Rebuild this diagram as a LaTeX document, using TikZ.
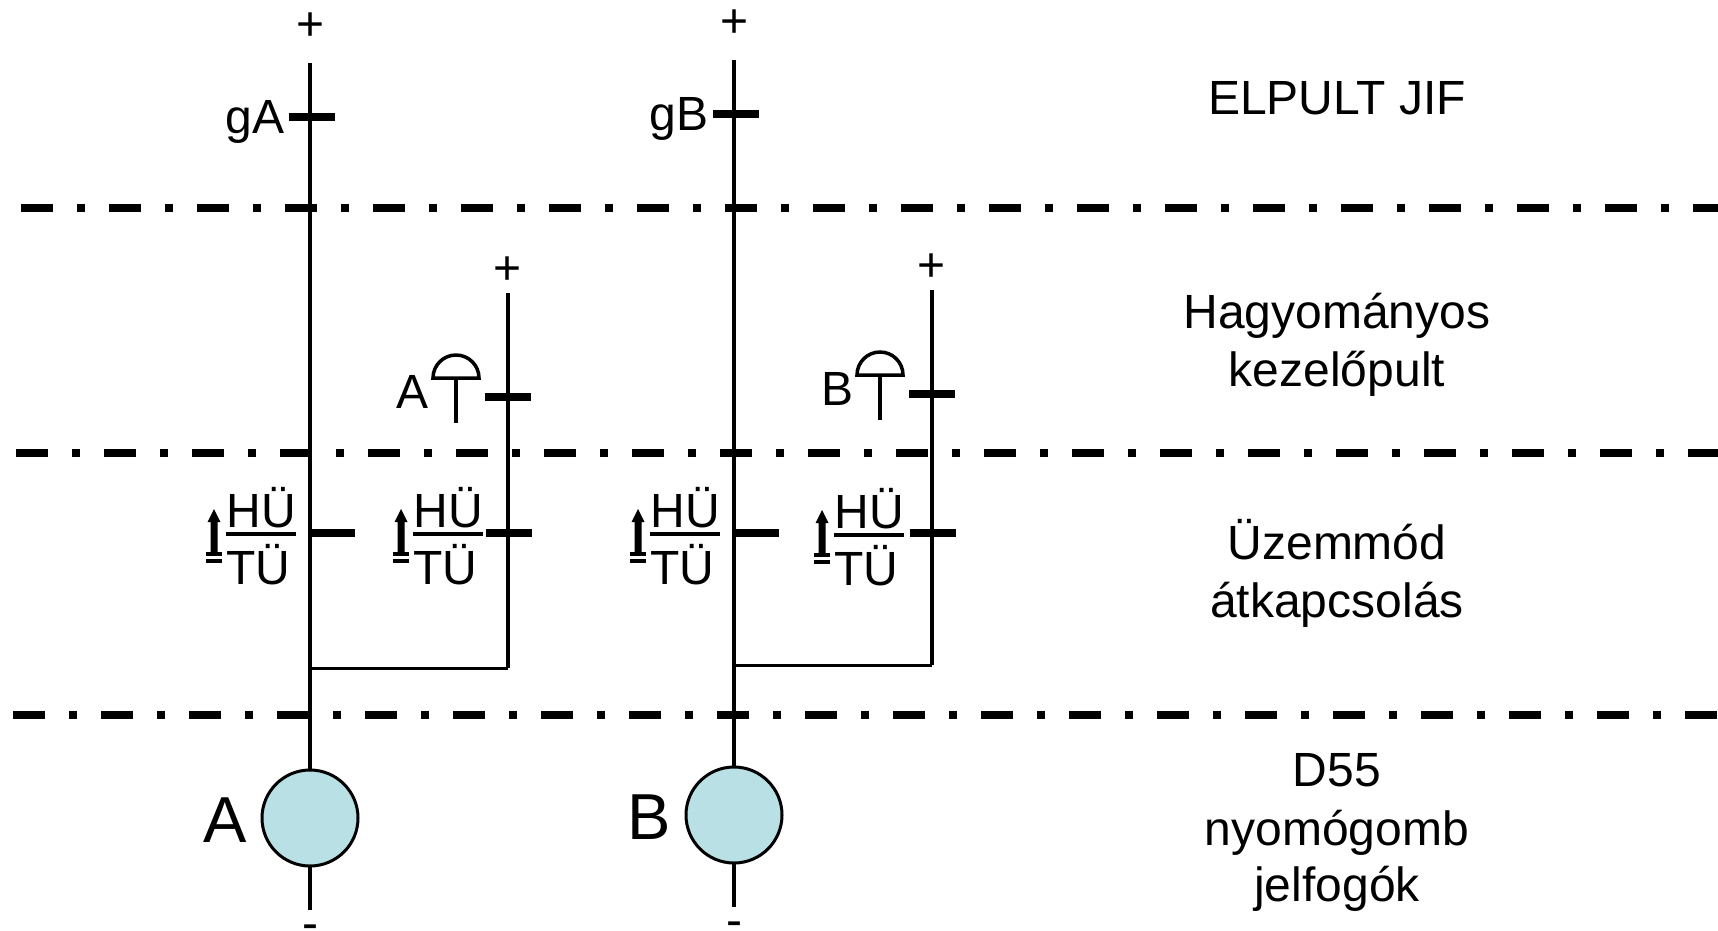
\documentclass[tikz,border=0pt]{standalone}
\usepackage{fontspec}
\setmainfont{Liberation Sans}
\definecolor{relay}{RGB}{185,224,228}
\tikzset{
  txt/.style={inner sep=0pt,outer sep=0pt,anchor=base,font=\fontsize{48}{52}\selectfont},
  bigtxt/.style={inner sep=0pt,outer sep=0pt,anchor=base,font=\fontsize{65}{70}\selectfont},
  wire/.style={line width=4pt,black},
  thinwire/.style={line width=3pt,black},
  tick/.style={line width=8pt,black},
  barline/.style={line width=4pt,black},
  sep/.style={line width=8pt,black,dash pattern=on 32pt off 24pt on 8pt off 24pt},
  relaycirc/.style={circle,draw=black,line width=3pt,fill=relay,minimum size=96pt,inner sep=0pt,outer sep=0pt},
  btn/.style={line width=3.5pt,black},
  uparrow/.style={black,fill=black},
}
\begin{document}
\begin{tikzpicture}[x=1pt,y=-1pt]
\useasboundingbox (0,0) rectangle (1718,930);
% separators
\coordinate (s1a) at (21,207.5);  \coordinate (s1b) at (1718,207.5);
\coordinate (s2a) at (16,453);    \coordinate (s2b) at (1718,453);
\coordinate (s3a) at (13,715);    \coordinate (s3b) at (1718,715);
\draw[sep] (s1a) -- (s1b);
\draw[sep] (s2a) -- (s2b);
\draw[sep] (s3a) -- (s3b);
% two circuits: name / x shift / y shift / second switch x offset / second switch y offset
\foreach \n/\dx/\dy/\ux/\uy in {A/0/0/187/0,B/424/-3/184/1}{
\begin{scope}[shift={(\dx,\dy)}]
  \node[relaycirc] (rel\n) at (310,818) {};
  \coordinate (top\n) at (310,63);
  \coordinate (bot\n) at (310,910);
  \coordinate (stop\n) at (507.5,293);
  \coordinate (sbot\n) at (507.5,668);
  \coordinate (sjoin\n) at (310,668);
  \draw[wire] (top\n) -- (rel\n.north);
  \draw[wire] (rel\n.south) -- (bot\n);
  \draw[wire] (stop\n) -- (sbot\n);
  \draw[thinwire] (sjoin\n) -- (sbot\n);
  \node[txt] (plus\n) at (311,40) {+};
  \node[txt] (minus\n) at (310,939) {-};
  \node[txt] (splus\n) at (507.5,284) {+};
  \node[txt,anchor=base east] (g\n) at (284.5,133) {g\n};
  \node[bigtxt] (big\n) at (225.5,842) {\n};
  \node[txt] (lab\n) at (413,408) {\n};
  % contacts
  \coordinate (ga\n) at (289,117); \coordinate (gb\n) at (335,117);
  \draw[tick] (ga\n) -- (gb\n);
  \coordinate (pa\n) at (485,397); \coordinate (pb\n) at (531,397);
  \draw[tick] (pa\n) -- (pb\n);
  % push button symbol
  \draw[btn] (433,378) arc[start angle=180,end angle=360,radius=23] -- cycle;
  \coordinate (st\n) at (456,378); \coordinate (sb\n) at (456,423);
  \draw[btn] (st\n) -- (sb\n);
\end{scope}
\begin{scope}[xshift=\dx pt]
  \coordinate (ua\n) at (312,533); \coordinate (ub\n) at (355,533);
  \draw[tick] (ua\n) -- (ub\n);
  \coordinate (va\n) at (486,533); \coordinate (vb\n) at (532,533);
  \draw[tick] (va\n) -- (vb\n);
  % mode switch labels
  \foreach \k/\ox/\oy in {1/0/0,2/\ux/\uy}{
    \begin{scope}[shift={(\ox,\oy)}]
      \node[txt] (hu\n\k) at (261.5,527) {HÜ};
      \node[txt] (tu\n\k) at (258,584) {TÜ};
      \coordinate (fa\n\k) at (226,534); \coordinate (fb\n\k) at (296,534);
      \draw[barline] (fa\n\k) -- (fb\n\k);
      \fill[uparrow] (214,509) -- (220.5,522) -- (217.5,522) -- (217.5,552) -- (210.5,552) -- (210.5,522) -- (207.5,522) -- cycle;
      \draw[line width=3.5pt] (206,554) -- (222,554);
      \draw[line width=3.5pt] (206,561) -- (222,561);
    \end{scope}
  }
\end{scope}
}
% right column
\node[txt] (t1) at (1337,114) {ELPULT JIF};
\node[txt] (t2) at (1337,328) {Hagyományos};
\node[txt] (t3) at (1337,386) {kezelőpult};
\node[txt] (t4) at (1337,559) {Üzemmód};
\node[txt] (t5) at (1337,617) {átkapcsolás};
\node[txt] (t6) at (1337,786) {D55};
\node[txt] (t7) at (1337,845) {nyomógomb};
\node[txt] (t8) at (1337,901) {jelfogók};
\end{tikzpicture}
\end{document}
